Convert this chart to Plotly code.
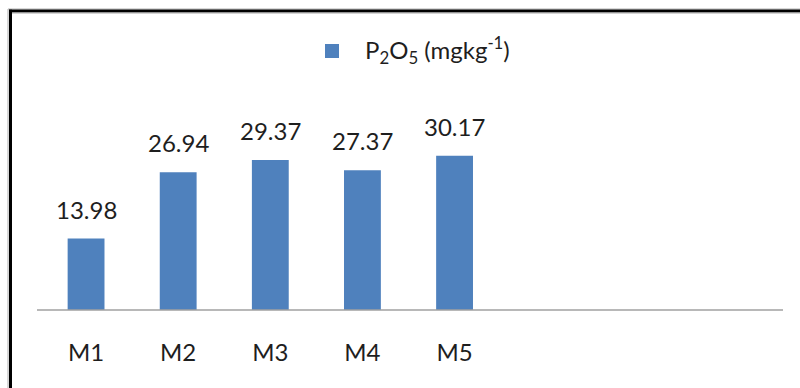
import plotly.graph_objects as go

# Available phosphorus by treatment
categories = ["M1", "M2", "M3", "M4", "M5"]
p2o5 = [13.98, 26.94, 29.37, 27.37, 30.17]
series_name = "P<sub>2</sub>O<sub>5</sub> (mgkg<sup>-1</sup>)"

W, H = 800, 388
L, R, T, B = 40, 23, 55, 78
PW, PH = W - L - R, H - T - B
BAR_COLOR = "#4f81bd"
FONT = "Lato"
TEXT = "#1e1e1e"


def px_x(px):
    return (px - L) / PW


def px_y(py):
    return (H - B - py) / PH


xs = list(range(len(categories)))

fig = go.Figure(
    go.Bar(
        x=xs,
        y=p2o5,
        width=0.4,
        marker=dict(color=BAR_COLOR, line=dict(width=0)),
        name=series_name,
        showlegend=False,
    )
)

# value labels above bars
for x, v in zip(xs, p2o5):
    fig.add_annotation(
        x=x, y=v, xref="x", yref="y", text=f"{v:.2f}",
        showarrow=False, yanchor="bottom", yshift=13,
        font=dict(family=FONT, size=24, color=TEXT),
    )

# legend entry
fig.add_shape(type="rect", xref="paper", yref="paper",
              x0=px_x(325), x1=px_x(339), y0=px_y(58), y1=px_y(44),
              fillcolor=BAR_COLOR, line=dict(width=0))
fig.add_annotation(xref="paper", yref="paper", x=px_x(363), y=px_y(50),
                   xanchor="left", yanchor="middle", text=series_name,
                   showarrow=False, font=dict(family=FONT, size=24, color=TEXT))

# category axis baseline
fig.add_shape(type="line", xref="paper", yref="paper",
              x0=px_x(37), x1=px_x(783), y0=0, y1=0,
              line=dict(color="#a0a0a0", width=1.5))

# outer frame (left and top edges)
frame = [
    dict(x0=px_x(8), x1=px_x(8), y0=px_y(9), y1=px_y(H + 5), c="#b0b0b0", w=1),
    dict(x0=px_x(10.5), x1=px_x(10.5), y0=px_y(9.5), y1=px_y(H + 5), c="#000000", w=3),
    dict(x0=px_x(8), x1=px_x(W + 5), y0=px_y(9), y1=px_y(9), c="#b0b0b0", w=1),
    dict(x0=px_x(9), x1=px_x(W + 5), y0=px_y(11), y1=px_y(11), c="#000000", w=3),
    dict(x0=px_x(12), x1=px_x(W + 5), y0=px_y(13), y1=px_y(13), c="#a8a8a8", w=1),
]
for f in frame:
    fig.add_shape(type="line", xref="paper", yref="paper",
                  x0=f["x0"], x1=f["x1"], y0=f["y0"], y1=f["y1"],
                  line=dict(color=f["c"], width=f["w"]))

fig.update_layout(
    width=W, height=H,
    margin=dict(l=L, r=R, t=T, b=B),
    paper_bgcolor="white", plot_bgcolor="white",
)
fig.update_xaxes(
    range=[-0.5, 7.5],
    tickvals=xs, ticktext=categories,
    showline=False,
    showgrid=False, zeroline=False, ticks="",
    ticklabelstandoff=26,
    tickfont=dict(family=FONT, size=24, color=TEXT),
)
fig.update_yaxes(
    range=[0, PH / 5.11],
    visible=False, showgrid=False, zeroline=False,
)

fig.write_html("out.html")
